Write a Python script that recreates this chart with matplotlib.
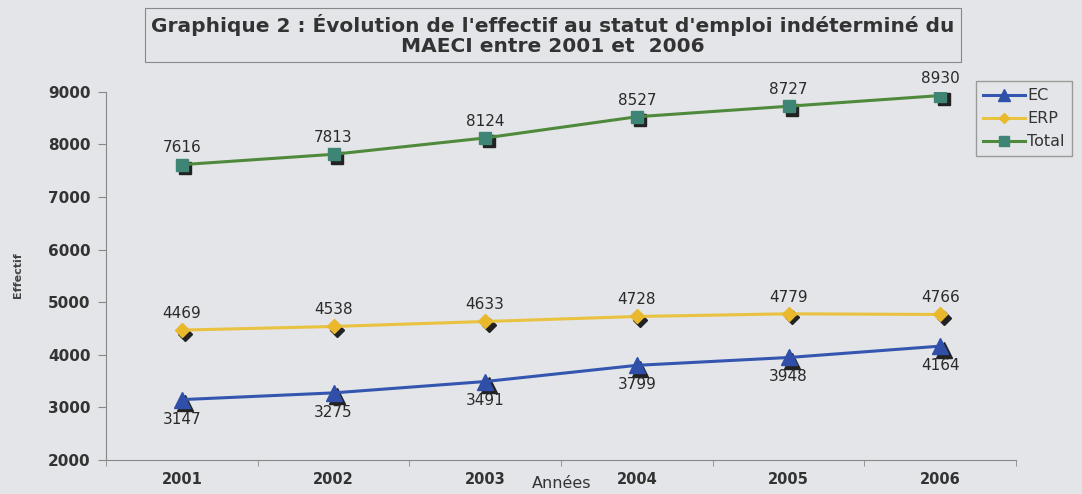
import matplotlib.pyplot as plt
import matplotlib.transforms as mtransforms

plt.rcParams['font.family'] = ['DejaVu Sans']

years = ['2001', '2002', '2003', '2004', '2005', '2006']
ec = [3147, 3275, 3491, 3799, 3948, 4164]
erp = [4469, 4538, 4633, 4728, 4779, 4766]
total = [7616, 7813, 8124, 8527, 8727, 8930]

bg = '#e3e5e8'
fig = plt.figure(figsize=(10.82, 4.94), dpi=100, facecolor=bg)
ax = fig.add_axes([0.098, 0.069, 0.841, 0.745], facecolor=bg)

x = list(range(len(years)))
series = [
    ('EC', ec, '#3556b0', '#2f4fa8', '^', 11, 'below'),
    ('ERP', erp, '#e9c23f', '#e9b82c', 'D', 7, 'above'),
    ('Total', total, '#4f8a3c', '#3e8576', 's', 9, 'above'),
]

# dark offset copy of the markers, like the Excel shadow
shadow = mtransforms.offset_copy(ax.transData, fig=fig, x=2.5, y=-2.5, units='points')
for name, vals, lc, mc, mk, ms, pos in series:
    ax.plot(x, vals, linestyle='none', marker=mk, markersize=ms, color='#222222',
            transform=shadow, zorder=2)
    ax.plot(x, vals, color=lc, linewidth=2.2, marker=mk, markersize=ms,
            markerfacecolor=mc, markeredgecolor=mc, label=name, zorder=3)
    for xi, v in zip(x, vals):
        dy = 12 if pos == 'above' else -14
        ax.annotate(str(v), (xi, v), xytext=(0, dy), textcoords='offset points',
                    ha='center', va='center', fontsize=11, color='#2a2a2a')

ax.set_xlim(-0.5, 5.5)
ax.set_ylim(2000, 9000)
ax.set_yticks(range(2000, 9001, 1000))
ax.set_xticks(x)
ax.set_xticklabels(years)
ax.set_xticks([i - 0.5 for i in range(7)], minor=True)
ax.tick_params(axis='x', which='major', length=0, pad=9, labelsize=10.5, labelcolor='#333333')
ax.tick_params(axis='x', which='minor', length=4, color='#888888')
ax.tick_params(axis='y', length=6, color='#888888', labelsize=11, labelcolor='#333333', pad=5)
for lbl in ax.get_xticklabels() + ax.get_yticklabels():
    lbl.set_fontweight('bold')
for side in ['top', 'right']:
    ax.spines[side].set_visible(False)
for side in ['left', 'bottom']:
    ax.spines[side].set_color('#888888')

fig.text(0.519, 0.012, 'Années', ha='center', fontsize=11.5, color='#333333')
fig.text(0.017, 0.443, 'Effectif', rotation=90, ha='center', va='center',
         fontsize=8, fontweight='bold', color='#444444')

fig.text(0.511, 0.929,
         "Graphique 2 : Évolution de l'effectif au statut d'emploi indéterminé du\nMAECI entre 2001 et  2006",
         ha='center', va='center', fontsize=14.5, fontweight='bold', color='#333333',
         linespacing=1.05,
         bbox=dict(boxstyle='square,pad=0.3', facecolor=bg, edgecolor='#888888', linewidth=0.8))

leg = fig.legend(loc='upper right', bbox_to_anchor=(0.998, 0.852), frameon=True,
                 fontsize=11.5, handlelength=2.6, borderpad=0.45, labelspacing=0.5,
                 fancybox=False, handletextpad=0.15, markerscale=0.75)
leg.get_frame().set_facecolor(bg)
leg.get_frame().set_edgecolor('#888888')
for t in leg.get_texts():
    t.set_color('#333333')

fig.savefig('out.png', dpi=100, facecolor=bg)
